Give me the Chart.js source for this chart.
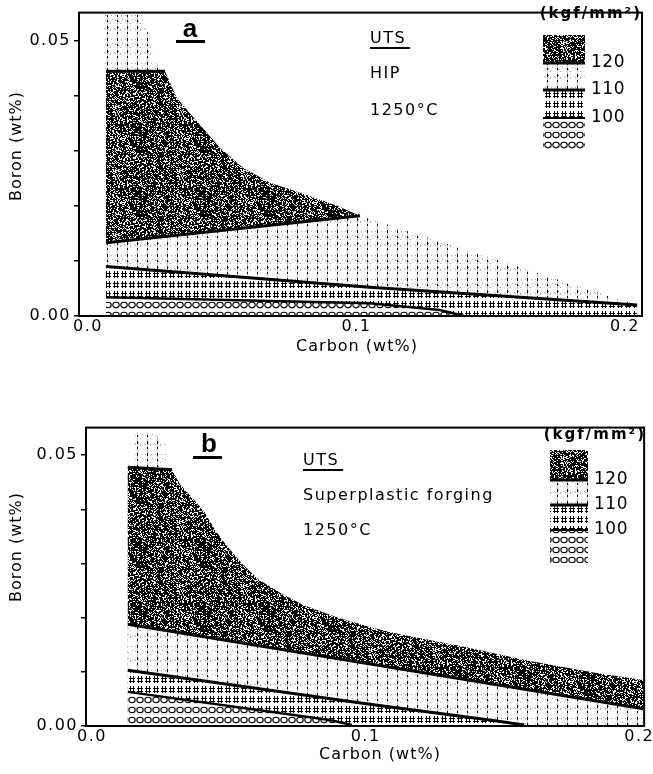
<!DOCTYPE html>
<html>
<head>
<meta charset="utf-8">
<script src="https://cdn.jsdelivr.net/npm/chart.js@4.4.0/dist/chart.umd.min.js"></script>
<style>
  html, body { margin: 0; padding: 0; background: #fff; }
  #wrap { position: relative; width: 653px; height: 774px; }
  .box { position: absolute; left: 0; width: 653px; }
</style>
</head>
<body>
<div id="wrap">
  <div class="box" style="top:0;height:360px"><canvas id="chartA"></canvas></div>
  <div class="box" style="top:415px;height:359px"><canvas id="chartB"></canvas></div>
</div>
<script>
// axis ticks
const xTicks = [0, 0.1, 0.2];
const xTickLabels = ['0.0', '0.1', '0.2'];
const yTicks = [0, 0.01, 0.02, 0.03, 0.04, 0.05];
const yTickLabels = ['0.00', '', '', '', '', '0.05'];
const levels = ['120', '110', '100'];

// (a) HIP - contour boundaries, carbon / boron in wt%
const hipTopC = [0.0067, 0.0287, 0.0331, 0.0406, 0.0492, 0.0577, 0.0678, 0.0801, 0.0927, 0.1013];
const hipTopB = [0.0444, 0.0444, 0.0395, 0.0353, 0.0305, 0.0269, 0.0242, 0.0222, 0.0200, 0.0182];
const hip120C = [0.0067, 0.1013];
const hip120B = [0.0133, 0.0182];
const hipEdgeC = [0.1013, 0.2045];
const hipEdgeB = [0.0182, 0.0020];
const hip110C = [0.0067, 0.1050, 0.2045];
const hip110B = [0.0090, 0.0052, 0.0020];
const hip100C = [0.0067, 0.1050, 0.1310, 0.1400];
const hip100B = [0.0034, 0.0023, 0.0011, 0.0000];
const hipCapC = [0.0060, 0.0265, 0.0242, 0.0201, 0.0060];
const hipCapB = [0.0444, 0.0444, 0.0485, 0.0546, 0.0546];

// (b) superplastic forging
const spfTopC = [0.0131, 0.0292, 0.0321, 0.0405, 0.0450, 0.0490, 0.0551, 0.0610, 0.0690, 0.0770, 0.0894, 0.1015, 0.1120, 0.1354, 0.1599, 0.1843, 0.2016];
const spfTopB = [0.0478, 0.0473, 0.0447, 0.0400, 0.0362, 0.0334, 0.0298, 0.0270, 0.0245, 0.0224, 0.0201, 0.0183, 0.0170, 0.0147, 0.0120, 0.0098, 0.0085];
const spf120C = [0.0131, 0.2016];
const spf120B = [0.0188, 0.0032];
const spf110C = [0.0131, 0.1015, 0.1453, 0.1580];
const spf110B = [0.0103, 0.0040, 0.0011, 0.0002];
const spf100C = [0.0131, 0.0869, 0.0950];
const spf100B = [0.0063, 0.0011, 0.0002];
const spfCapC = [0.0150, 0.0274, 0.0274, 0.0223, 0.0150];
const spfCapB = [0.0478, 0.0478, 0.0518, 0.0542, 0.0542];

const FONT = '"DejaVu Sans", sans-serif';
const LETTER_FONT = '"Liberation Sans", Arial, sans-serif';

// ---- fill textures (scanned-print look) ----
function noise(i) {
  const s = Math.sin(i * 12.9898 + 78.233) * 43758.5453;
  return s - Math.floor(s);
}
function makePattern(w, h, paint) {
  const c = document.createElement('canvas');
  c.width = w; c.height = h;
  const g = c.getContext('2d');
  paint(g, w, h);
  return g.createPattern(c, 'repeat');
}
const darkFill = makePattern(64, 64, (g, w, h) => {
  const img = g.createImageData(w, h);
  for (let i = 0; i < w * h; i++) {
    const v = noise(i) < 0.74 ? 0 : 255;
    img.data[i * 4] = img.data[i * 4 + 1] = img.data[i * 4 + 2] = v;
    img.data[i * 4 + 3] = 255;
  }
  g.putImageData(img, 0, 0);
});
const dashFill = makePattern(10, 24, (g, w, h) => {
  g.fillStyle = '#fff';
  g.fillRect(0, 0, w, h);
  g.fillStyle = '#aaa';
  for (let i = 0; i < w * h; i++) {
    if (noise(i + 5000) < 0.06) g.fillRect(i % w, Math.floor(i / w), 1, 1);
  }
  g.fillStyle = '#c4c4c4';
  g.fillRect(7, 0, 1, h);
  g.fillStyle = '#000';
  [[2, 3], [8, 2], [14, 3], [20, 2]].forEach(([y, len]) => g.fillRect(7, y, 1, len));
});
const hashFill = makePattern(8, 10, (g, w, h) => {
  g.fillStyle = '#fff';
  g.fillRect(0, 0, w, h);
  g.fillStyle = '#000';
  g.fillRect(2, 1, 1, 7);
  g.fillRect(5, 1, 1, 7);
  g.fillRect(1, 3, 6, 1);
  g.fillRect(1, 6, 6, 1);
});
const ringFill = makePattern(8, 10, (g, w, h) => {
  g.fillStyle = '#fff';
  g.fillRect(0, 0, w, h);
  g.strokeStyle = '#000';
  g.lineWidth = 1.1;
  g.beginPath();
  g.ellipse(4, 5, 3.2, 2.7, 0, 0, Math.PI * 2);
  g.stroke();
});

// ---- dataset helpers ----
function pts(cs, bs) {
  return cs.map((c, i) => ({ x: c, y: bs[i] }));
}
// a line closed down to the boron = 0 baseline
function toBase(points) {
  return points.concat([{ x: points[points.length - 1].x, y: 0 }, { x: points[0].x, y: 0 }]);
}
function region(label, data, fillStyle, order) {
  return { label, data, showLine: true, fill: 'shape', backgroundColor: fillStyle,
           borderColor: 'transparent', borderWidth: 0, pointRadius: 0, order };
}
function contour(label, data, width) {
  return { label, data, showLine: true, fill: false, borderColor: '#000',
           borderWidth: width, pointRadius: 0, order: 0 };
}

function buildDatasets(topC, topB, c120, b120, edgeC, edgeB, c110, b110, c100, b100, capC, capB) {
  const top = pts(topC, topB);
  const line120 = pts(c120, b120);
  const outer = edgeC ? top.concat(pts(edgeC, edgeB).slice(1)) : top;
  return [
    contour('120 top', top.slice(0, 2), 3),
    contour('120', line120, 3),
    contour('110', pts(c110, b110), 3),
    contour('100', pts(c100, b100), 2.5),
    region('>120', top.concat(line120.slice().reverse()), darkFill, 1),
    region('<100', toBase(pts(c100, b100)), ringFill, 2),
    region('100-110', toBase(pts(c110, b110)), hashFill, 3),
    region('110-120', toBase(outer), dashFill, 4),
    region('110-120 cap', pts(capC, capB), dashFill, 4)
  ];
}

function makeScales(xMin, xMax, yMax, yWidth, xHeight) {
  return {
    x: {
      type: 'linear', min: xMin, max: xMax,
      grid: { display: false, drawTicks: false }, border: { display: false },
      afterBuildTicks: s => { s.ticks = xTicks.map(v => ({ value: v })); },
      afterFit: s => { s.height = xHeight; },
      ticks: { color: '#000', font: { family: FONT, size: 16 }, padding: 1,
               maxRotation: 0, autoSkip: false, callback: (v, i) => xTickLabels[i] }
    },
    y: {
      type: 'linear', min: 0, max: yMax,
      grid: { display: true, drawOnChartArea: false, drawTicks: true, tickLength: 5,
              color: '#000', lineWidth: 1.5 },
      border: { display: false },
      afterBuildTicks: s => { s.ticks = yTicks.map(v => ({ value: v })); },
      afterFit: s => { s.width = yWidth; },
      ticks: { color: '#000', font: { family: FONT, size: 16 }, padding: 3,
               autoSkip: false, callback: (v, i) => yTickLabels[i] }
    }
  };
}

function annotations(cfg) {
  return {
    id: 'annot' + cfg.letter,
    beforeDraw(chart) { chart.ctx.letterSpacing = '1.5px'; },
    afterDraw(chart) {
      const ctx = chart.ctx;
      const a = chart.chartArea;
      ctx.save();
      ctx.fillStyle = '#000';
      ctx.strokeStyle = '#000';
      ctx.lineWidth = 2;
      ctx.strokeRect(a.left, a.top, a.right - a.left, a.bottom - a.top);

      // axis titles
      ctx.letterSpacing = '1px';
      ctx.font = '16px ' + FONT;
      ctx.textAlign = 'center';
      ctx.textBaseline = 'middle';
      ctx.fillText('Carbon (wt%)', cfg.xTitle[0], cfg.xTitle[1]);
      ctx.save();
      ctx.translate(cfg.yTitle[0], cfg.yTitle[1]);
      ctx.rotate(-Math.PI / 2);
      ctx.fillText('Boron (wt%)', 0, 0);
      ctx.restore();

      // panel letter with bar
      ctx.letterSpacing = '0px';
      ctx.font = 'bold 26px ' + LETTER_FONT;
      ctx.textBaseline = 'alphabetic';
      ctx.fillText(cfg.letter, cfg.letterPos[0], cfg.letterPos[1]);
      ctx.fillRect(cfg.bar[0], cfg.bar[1], cfg.bar[2], 3);

      // notes
      ctx.letterSpacing = '1.5px';
      ctx.textAlign = 'left';
      ctx.font = '16px ' + FONT;
      cfg.notes.forEach((t, i) => ctx.fillText(t, cfg.notesX, cfg.notesY[i]));
      ctx.fillRect(cfg.notesX, cfg.underlineY, ctx.measureText(cfg.notes[0]).width + 4, 2);

      // legend swatches
      const L = cfg.legend;
      const fills = [darkFill, dashFill, hashFill, ringFill];
      fills.forEach((f, i) => {
        ctx.fillStyle = f;
        ctx.fillRect(L.x, L.y[i], L.w, L.y[i + 1] - L.y[i]);
      });
      ctx.fillStyle = '#000';
      [3, 3, 2].forEach((lw, i) => ctx.fillRect(L.x, L.y[i + 1] - lw / 2, L.w, lw));
      ctx.textBaseline = 'middle';
      ctx.letterSpacing = '0.5px';
      ctx.font = '17px ' + FONT;
      levels.forEach((t, i) => ctx.fillText(t, L.x + L.w + 6, L.y[i + 1]));
      ctx.letterSpacing = '2px';
      ctx.font = 'bold 15px ' + FONT;
      ctx.textAlign = 'right';
      ctx.textBaseline = 'alphabetic';
      ctx.fillText('(kgf/mm²)', L.unit[0], L.unit[1]);
      ctx.restore();
    }
  };
}

function makeChart(id, datasets, scales, padding, cfg) {
  return new Chart(document.getElementById(id), {
    type: 'scatter',
    data: { datasets },
    options: {
      responsive: true,
      maintainAspectRatio: false,
      animation: false,
      events: [],
      layout: { padding },
      scales,
      plugins: { legend: { display: false }, tooltip: { enabled: false } }
    },
    plugins: [annotations(cfg)]
  });
}

makeChart('chartA',
  buildDatasets(hipTopC, hipTopB, hip120C, hip120B, hipEdgeC, hipEdgeB,
                hip110C, hip110B, hip100C, hip100B, hipCapC, hipCapB),
  makeScales(-0.00335, 0.20633, 0.05505, 79, 44),
  { left: 0, top: 11, right: 11, bottom: 0 },
  {
    letter: 'a', letterPos: [190, 37], bar: [176, 40, 29],
    notes: ['UTS', 'HIP', '1250°C'], notesX: 370, notesY: [43, 78, 115], underlineY: 47,
    xTitle: [357, 347], yTitle: [17, 146],
    legend: { x: 543, w: 42, y: [35, 63, 90, 118, 150], unit: [642, 18] }
  });

makeChart('chartB',
  buildDatasets(spfTopC, spfTopB, spf120C, spf120B, null, null,
                spf110C, spf110B, spf100C, spf100B, spfCapC, spfCapB),
  makeScales(-0.00219, 0.2018, 0.0551, 86, 48),
  { left: 0, top: 10, right: 8, bottom: 0 },
  {
    letter: 'b', letterPos: [209, 37], bar: [193, 41, 29],
    notes: ['UTS', 'Superplastic forging', '1250°C'], notesX: 303, notesY: [50, 85, 120], underlineY: 54,
    xTitle: [380, 340], yTitle: [17, 132],
    legend: { x: 550, w: 38, y: [35, 65, 90, 115, 148], unit: [646, 24] }
  });
</script>
</body>
</html>
